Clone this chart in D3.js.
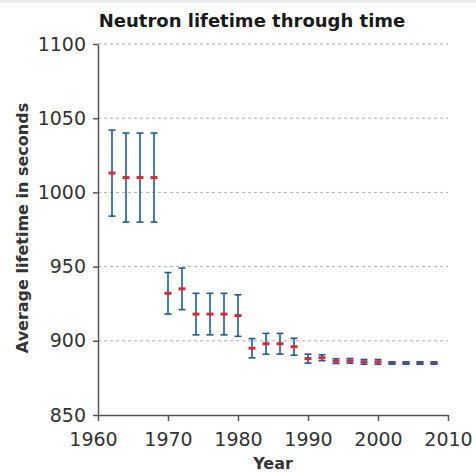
<!DOCTYPE html>
<html>
<head>
<meta charset="utf-8">
<script src="https://cdn.jsdelivr.net/npm/d3@7"></script>
<style>
  html, body { margin: 0; padding: 0; background: #fff; }
  svg { display: block; }
</style>
</head>
<body>
<div class="chart"></div>
<script>
// values
let years = [1962, 1964, 1966, 1968, 1970, 1972, 1974, 1976, 1978, 1980, 1982, 1984,
  1986, 1988, 1990, 1992, 1994, 1996, 1998, 2000, 2002, 2004, 2006, 2008];
let lifetimes = [1013, 1010, 1010, 1010, 932, 935, 918, 918, 918, 917, 895, 898,
  898, 896, 888, 888.6, 886.3, 886.5, 885.8, 885.8, 885, 885, 885, 885];
let errors = [29, 30, 30, 30, 14, 14, 14, 14, 14, 14, 6.5, 7,
  7, 5.7, 3, 2, 1.6, 1.6, 1.6, 1.6, 0.8, 0.8, 0.8, 0.8];
let xTicks = [1960, 1970, 1980, 1990, 2000, 2010];
let yTicks = [850, 900, 950, 1000, 1050, 1100];

let width = 476, height = 472;
let margin = {top: 44, right: 28, bottom: 57, left: 98};

let svg = d3.select(".chart").append("svg")
  .attr("width", width)
  .attr("height", height);

// thin grey strip at the very top
svg.append("rect")
  .attr("x", 0).attr("y", 0)
  .attr("width", width).attr("height", 3)
  .attr("fill", "#ececec");

let x = d3.scaleLinear().domain([1960, 2010]).range([margin.left, width - margin.right]);
let y = d3.scaleLinear().domain([850, 1100]).range([height - margin.bottom, margin.top]);

// dashed grid lines
svg.append("g").selectAll("line")
  .data(yTicks.filter(d => d > 850))
  .enter().append("line")
  .attr("x1", x(1960)).attr("x2", x(2010))
  .attr("y1", d => y(d)).attr("y2", d => y(d))
  .attr("stroke", "#b0b0b0")
  .attr("stroke-width", 1)
  .attr("stroke-dasharray", "3,3");

let xAxis = d3.axisBottom(x).tickValues(xTicks).tickFormat(d3.format("d"))
  .tickSize(6).tickSizeOuter(0).tickPadding(12);
let yAxis = d3.axisLeft(y).tickValues(yTicks).tickFormat(d3.format("d"))
  .tickSize(5).tickSizeOuter(0).tickPadding(7);

let gx = svg.append("g").attr("transform", "translate(0," + y(850) + ")").call(xAxis);
let gy = svg.append("g").attr("transform", "translate(" + x(1960) + ",0)").call(yAxis);

[gx, gy].forEach(g => {
  g.selectAll("path, line").attr("stroke", "#555").attr("stroke-width", 1.5);
  g.selectAll("text")
    .attr("fill", "#333")
    .style("font-family", "'DejaVu Sans', sans-serif")
    .style("font-size", "19px");
});
// first year label sits a little left of its tick in the original
gx.select(".tick text").attr("dx", -5);

// error bars + markers
let pts = years.map((yr, i) => ({year: yr, value: lifetimes[i], err: errors[i]}));
let blue = "#1d5a98", red = "#e2252e";

let bars = svg.append("g");
bars.selectAll("line.stem")
  .data(pts).enter().append("line")
  .attr("class", "stem")
  .attr("x1", d => x(d.year)).attr("x2", d => x(d.year))
  .attr("y1", d => y(d.value + d.err)).attr("y2", d => y(d.value - d.err))
  .attr("stroke", blue).attr("stroke-width", 1.6);

bars.selectAll("rect.mark")
  .data(pts).enter().append("rect")
  .attr("class", "mark")
  .attr("x", d => x(d.year) - 3.5).attr("y", d => y(d.value) - 1.5)
  .attr("width", 7).attr("height", 3)
  .attr("fill", red);

["top", "bottom"].forEach(side => {
  bars.selectAll("line.cap-" + side)
    .data(pts).enter().append("line")
    .attr("class", "cap-" + side)
    .attr("x1", d => x(d.year) - 3.5).attr("x2", d => x(d.year) + 3.5)
    .attr("y1", d => y(side == "top" ? d.value + d.err : d.value - d.err))
    .attr("y2", d => y(side == "top" ? d.value + d.err : d.value - d.err))
    .attr("stroke", blue).attr("stroke-width", 1.6);
});

// titles
svg.append("text")
  .attr("x", 252).attr("y", 27)
  .attr("text-anchor", "middle")
  .style("font-family", "'DejaVu Sans', sans-serif")
  .style("font-weight", "bold")
  .style("font-size", "18px")
  .attr("fill", "#1a1a1a")
  .text("Neutron lifetime through time");

svg.append("text")
  .attr("transform", "translate(28,228) rotate(-90)")
  .attr("text-anchor", "middle")
  .style("font-family", "'DejaVu Sans', sans-serif")
  .style("font-weight", "bold")
  .style("font-size", "16px")
  .attr("fill", "#333")
  .text("Average lifetime in seconds");

svg.append("text")
  .attr("x", 273).attr("y", 469)
  .attr("text-anchor", "middle")
  .style("font-family", "'DejaVu Sans', sans-serif")
  .style("font-weight", "bold")
  .style("font-size", "16px")
  .attr("fill", "#333")
  .text("Year");
</script>
</body>
</html>
